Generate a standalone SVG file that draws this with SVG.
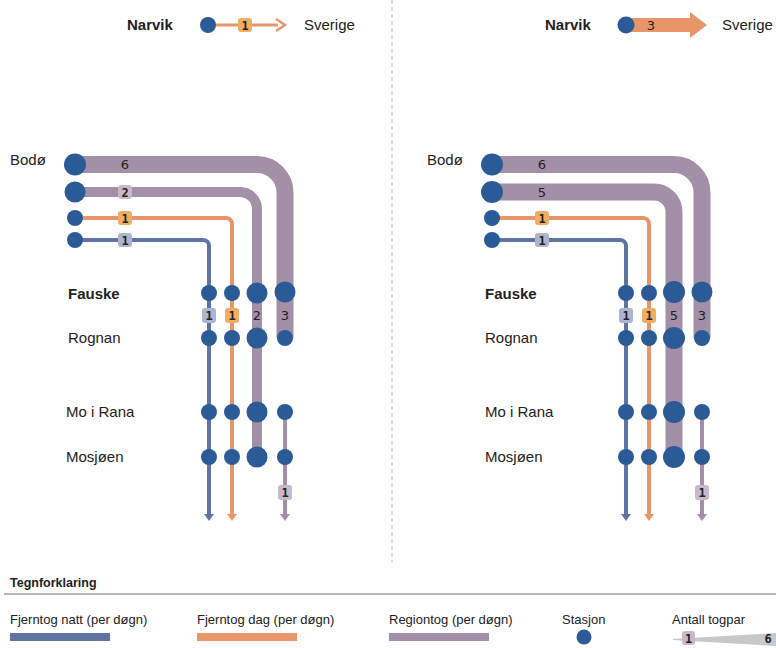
<svg xmlns="http://www.w3.org/2000/svg" width="776" height="648" viewBox="0 0 776 648">
<style>
text{font-family:"Liberation Sans",Arial,sans-serif;fill:#222}
.lbl{font-size:15px}
.bold{font-weight:bold}
.num{font-family:"DejaVu Sans Mono","Liberation Mono",monospace;font-size:12px;font-weight:bold;text-anchor:middle;fill:#222}
.numr{font-family:"DejaVu Sans",sans-serif;font-size:13px;text-anchor:middle;fill:#222}
.st{fill:#2b5b96}
.reg{fill:none;stroke:#a38fa8}
.day{fill:none;stroke:#e8956a;stroke-width:4}
.night{fill:none;stroke:#5f74a3;stroke-width:4}
.bb{fill:#adb4d0}
.bo{fill:#f2ad62}
.bp{fill:#c7b9cb}
</style>
<defs>
<marker id="aB" markerWidth="10" markerHeight="8" refX="5" refY="2" orient="0" markerUnits="userSpaceOnUse" viewBox="0 0 10 8"><path d="M0,0 L10,0 L5,7 Z" fill="#5f74a3"/></marker>
<marker id="aO" markerWidth="10" markerHeight="8" refX="5" refY="2" orient="0" markerUnits="userSpaceOnUse" viewBox="0 0 10 8"><path d="M0,0 L10,0 L5,7 Z" fill="#e8956a"/></marker>
<marker id="aP" markerWidth="10" markerHeight="8" refX="5" refY="2" orient="0" markerUnits="userSpaceOnUse" viewBox="0 0 10 8"><path d="M0,0 L10,0 L5,7 Z" fill="#a38fa8"/></marker>
</defs>

<line x1="392" y1="0" x2="392" y2="562" stroke="#bbb" stroke-width="1" stroke-dasharray="4,3"/>

<!-- LEFT PANEL connectors -->
<g id="connectors-left">
  <line x1="208" y1="25" x2="278" y2="25" stroke="#e8956a" stroke-width="3"/>
  <path d="M276,19 L285,25 L276,31" fill="none" stroke="#e8956a" stroke-width="2.5"/>
  <path class="reg" stroke-width="17" d="M75,164.5 H257 A28,28 0 0 1 285,192.5 V338"/>
  <path class="reg" stroke-width="10" d="M75,192 H240 A17,17 0 0 1 257,209 V457"/>
  <path class="day" d="M75,218 H226 A6,6 0 0 1 232,224 V516" marker-end="url(#aO)"/>
  <path class="night" d="M75,240 H203 A6,6 0 0 1 209,246 V516" marker-end="url(#aB)"/>
  <path class="reg" stroke-width="4" d="M285,412 V516" marker-end="url(#aP)"/>
</g>

<!-- RIGHT PANEL connectors -->
<g id="connectors-right">
  <path d="M626,18 H690 V12 L707,25 L690,38 V32 H626 Z" fill="#e8956a"/>
  <path class="reg" stroke-width="17" d="M492,164.5 H674 A28,28 0 0 1 702,192.5 V338"/>
  <path class="reg" stroke-width="17" d="M492,192 H654 A20,20 0 0 1 674,212 V457"/>
  <path class="day" d="M492,218 H643 A6,6 0 0 1 649,224 V516" marker-end="url(#aO)"/>
  <path class="night" d="M492,240 H620 A6,6 0 0 1 626,246 V516" marker-end="url(#aB)"/>
  <path class="reg" stroke-width="4" d="M702,412 V516" marker-end="url(#aP)"/>
</g>

<!-- LEFT PANEL nodes -->
<g id="narvik-left">
  <text x="127" y="30" class="lbl bold">Narvik</text>
  <circle cx="208" cy="25" r="8" class="st"/>
  <rect x="238" y="18" width="14" height="14" rx="3" class="bo"/>
  <text x="245" y="29.5" class="num">1</text>
  <text x="304" y="30" class="lbl">Sverige</text>
</g>
<g id="bodo-left">
  <text x="10" y="165" class="lbl">Bodø</text>
  <circle cx="75" cy="164.5" r="11" class="st"/>
  <circle cx="75" cy="192" r="10.5" class="st"/>
  <circle cx="75" cy="218" r="8" class="st"/>
  <circle cx="75" cy="240" r="8" class="st"/>
  <text x="125" y="169" class="numr">6</text>
  <rect x="118" y="185" width="14" height="14" rx="3" class="bp"/>
  <text x="125" y="196.5" class="num">2</text>
  <rect x="118" y="211" width="14" height="14" rx="3" class="bo"/>
  <text x="125" y="222.5" class="num">1</text>
  <rect x="118" y="233" width="14" height="14" rx="3" class="bb"/>
  <text x="125" y="244.5" class="num">1</text>
</g>
<g id="fauske-left">
  <text x="68" y="299" class="lbl bold">Fauske</text>
  <circle cx="209" cy="293" r="8" class="st"/>
  <circle cx="232" cy="293" r="8" class="st"/>
  <circle cx="257" cy="293" r="10.5" class="st"/>
  <circle cx="285" cy="292" r="10.5" class="st"/>
  <rect x="202" y="308" width="14" height="15" rx="3" class="bb"/>
  <text x="209" y="320" class="num">1</text>
  <rect x="225" y="308" width="14" height="15" rx="3" class="bo"/>
  <text x="232" y="320" class="num">1</text>
  <text x="257" y="320" class="numr">2</text>
  <text x="285" y="320" class="numr">3</text>
</g>
<g id="rognan-left">
  <text x="68" y="343" class="lbl">Rognan</text>
  <circle cx="209" cy="338" r="8" class="st"/>
  <circle cx="232" cy="338" r="8" class="st"/>
  <circle cx="257" cy="338" r="10.5" class="st"/>
  <circle cx="285" cy="338" r="8" class="st"/>
</g>
<g id="moirana-left">
  <text x="66" y="417" class="lbl">Mo i Rana</text>
  <circle cx="209" cy="412" r="8" class="st"/>
  <circle cx="232" cy="412" r="8" class="st"/>
  <circle cx="257" cy="412" r="10.5" class="st"/>
  <circle cx="285" cy="412" r="8" class="st"/>
</g>
<g id="mosjoen-left">
  <text x="66" y="462" class="lbl">Mosjøen</text>
  <circle cx="209" cy="457" r="8" class="st"/>
  <circle cx="232" cy="457" r="8" class="st"/>
  <circle cx="257" cy="457" r="10.5" class="st"/>
  <circle cx="285" cy="457" r="8" class="st"/>
  <rect x="278" y="485" width="14" height="15" rx="3" class="bp"/>
  <text x="285" y="497" class="num">1</text>
</g>

<!-- RIGHT PANEL nodes -->
<g id="narvik-right">
  <text x="545" y="30" class="lbl bold">Narvik</text>
  <circle cx="626" cy="25" r="8.5" class="st"/>
  <text x="651" y="30" class="numr">3</text>
  <text x="722" y="30" class="lbl">Sverige</text>
</g>
<g id="bodo-right">
  <text x="427" y="165" class="lbl">Bodø</text>
  <circle cx="492" cy="164.5" r="11" class="st"/>
  <circle cx="492" cy="192" r="11" class="st"/>
  <circle cx="492" cy="218" r="8" class="st"/>
  <circle cx="492" cy="240" r="8" class="st"/>
  <text x="542" y="169" class="numr">6</text>
  <text x="542" y="197" class="numr">5</text>
  <rect x="535" y="211" width="14" height="14" rx="3" class="bo"/>
  <text x="542" y="222.5" class="num">1</text>
  <rect x="535" y="233" width="14" height="14" rx="3" class="bb"/>
  <text x="542" y="244.5" class="num">1</text>
</g>
<g id="fauske-right">
  <text x="485" y="299" class="lbl bold">Fauske</text>
  <circle cx="626" cy="293" r="8" class="st"/>
  <circle cx="649" cy="293" r="8" class="st"/>
  <circle cx="674" cy="292" r="11" class="st"/>
  <circle cx="702" cy="292" r="10.5" class="st"/>
  <rect x="619" y="308" width="14" height="15" rx="3" class="bb"/>
  <text x="626" y="320" class="num">1</text>
  <rect x="642" y="308" width="14" height="15" rx="3" class="bo"/>
  <text x="649" y="320" class="num">1</text>
  <text x="674" y="320" class="numr">5</text>
  <text x="702" y="320" class="numr">3</text>
</g>
<g id="rognan-right">
  <text x="485" y="343" class="lbl">Rognan</text>
  <circle cx="626" cy="338" r="8" class="st"/>
  <circle cx="649" cy="338" r="8" class="st"/>
  <circle cx="674" cy="338" r="11" class="st"/>
  <circle cx="702" cy="338" r="8" class="st"/>
</g>
<g id="moirana-right">
  <text x="485" y="417" class="lbl">Mo i Rana</text>
  <circle cx="626" cy="412" r="8" class="st"/>
  <circle cx="649" cy="412" r="8" class="st"/>
  <circle cx="674" cy="412" r="11" class="st"/>
  <circle cx="702" cy="412" r="8" class="st"/>
</g>
<g id="mosjoen-right">
  <text x="485" y="462" class="lbl">Mosjøen</text>
  <circle cx="626" cy="457" r="8" class="st"/>
  <circle cx="649" cy="457" r="8" class="st"/>
  <circle cx="674" cy="457" r="11" class="st"/>
  <circle cx="702" cy="457" r="8" class="st"/>
  <rect x="695" y="485" width="14" height="15" rx="3" class="bp"/>
  <text x="702" y="497" class="num">1</text>
</g>

<!-- LEGEND -->
<g id="legend">
  <text x="10" y="587" font-size="12.5" class="bold">Tegnforklaring</text>
  <line x1="4" y1="594" x2="776" y2="594" stroke="#a0a0a0" stroke-width="1.5"/>
  <text x="10" y="624" font-size="13">Fjerntog natt (per døgn)</text>
  <rect x="10" y="633" width="100" height="8" fill="#5f74a3"/>
  <text x="197" y="624" font-size="13">Fjerntog dag (per døgn)</text>
  <rect x="197" y="633" width="100" height="8" fill="#e8956a"/>
  <text x="389" y="624" font-size="13">Regiontog (per døgn)</text>
  <rect x="389" y="633" width="100" height="8" fill="#a38fa8"/>
  <text x="562" y="624" font-size="13">Stasjon</text>
  <circle cx="584" cy="637" r="7.5" class="st"/>
  <text x="672" y="624" font-size="13">Antall togpar</text>
  <polygon points="673,639 776,633 776,646 673,640" fill="#c8c8c8"/>
  <rect x="682" y="631" width="13" height="14" rx="3" class="bp"/>
  <text x="688.5" y="642.5" class="num">1</text>
  <text x="768" y="642.5" class="num">6</text>
</g>
</svg>
